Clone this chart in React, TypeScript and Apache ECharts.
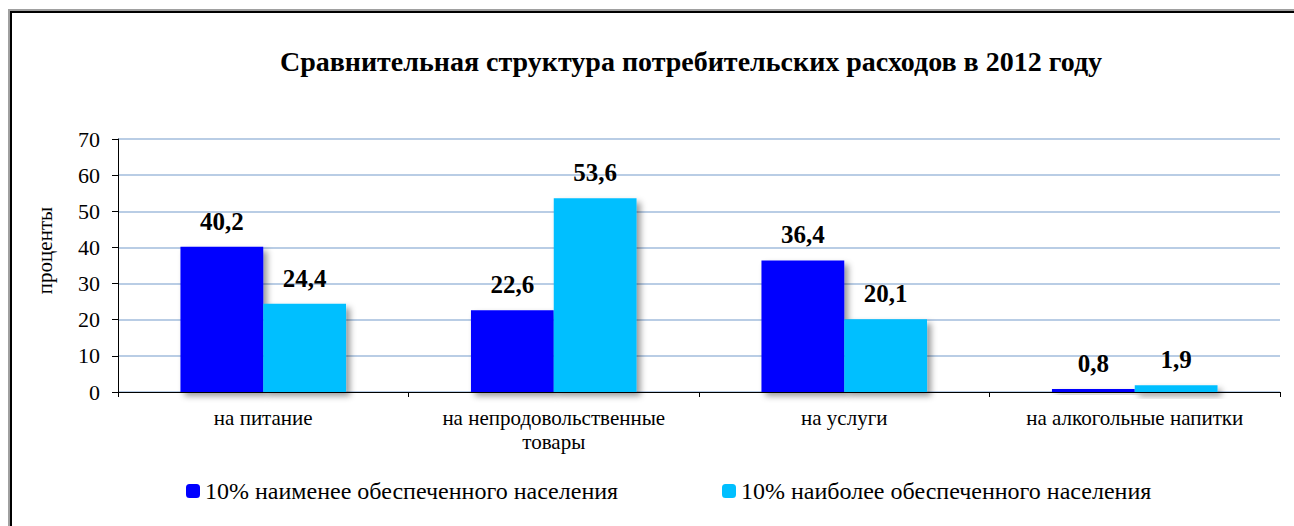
import React, { useEffect, useRef } from "react";
import * as echarts from "echarts";

const categories = ["на питание", "на непродовольственные\nтовары", "на услуги", "на алкогольные напитки"];
const seriesNames = ["10% наименее обеспеченного населения", "10% наиболее обеспеченного населения"];
const poorest = [40.2, 22.6, 36.4, 0.8];
const richest = [24.4, 53.6, 20.1, 1.9];
const title = "Сравнительная структура потребительских расходов в 2012 году";
const yAxisName = "проценты";
const colors = ["#0000FF", "#00BFFF"];

const SERIF = "Liberation Serif";

export default function App() {
  const ref = useRef<HTMLDivElement>(null);
  useEffect(() => {
    document.body.style.margin = "0";
    const chart = echarts.init(ref.current!, null, { renderer: "svg" });
    const label = {
      show: true,
      position: "top" as const,
      distance: 13,
      fontFamily: SERIF,
      fontSize: 25,
      fontWeight: "bold" as const,
      color: "#000",
      formatter: (p: any) => String(p.value).replace(".", ","),
    };
    const shadow = {
      shadowBlur: 6,
      shadowOffsetX: 4,
      shadowOffsetY: 4,
      shadowColor: "rgba(0,0,0,0.4)",
    };
    const legendText = { fontFamily: SERIF, fontSize: 24, color: "#000" };
    chart.setOption({
      animation: false,
      textStyle: { fontFamily: SERIF },
      title: {
        text: title,
        left: 686,
        textAlign: "center",
        top: 42,
        textStyle: { fontFamily: SERIF, fontSize: 28, fontWeight: "bold", color: "#000" },
      },
      graphic: [
        { type: "polyline", shape: { points: [[9, 540], [9, 10], [1300, 10]] }, style: { stroke: "#a0a0a0", lineWidth: 2, fill: "none" } },
        { type: "polyline", shape: { points: [[11, 540], [11, 12], [1300, 12]] }, style: { stroke: "#000", lineWidth: 2, fill: "none" } },
      ],
      legend: [
        {
          data: [seriesNames[0]],
          left: 186,
          top: 479,
          padding: 0,
          itemWidth: 14,
          itemHeight: 14,
          textStyle: legendText,
        },
        {
          data: [seriesNames[1]],
          left: 722,
          top: 479,
          padding: 0,
          itemWidth: 14,
          itemHeight: 14,
          textStyle: legendText,
        },
      ],
      grid: { left: 118, right: 14, top: 139, bottom: 134, containLabel: false },
      xAxis: {
        type: "category",
        data: categories,
        axisLine: { lineStyle: { color: "#000", width: 1 } },
        axisTick: { show: true, length: 5, lineStyle: { color: "#000" } },
        axisLabel: { fontFamily: SERIF, fontSize: 21, color: "#000", margin: 14, lineHeight: 24 },
      },
      yAxis: {
        type: "value",
        min: 0,
        max: 70,
        interval: 10,
        name: yAxisName,
        nameLocation: "middle",
        nameGap: 63,
        nameTextStyle: { fontFamily: SERIF, fontSize: 21, color: "#000", padding: [0, 0, 0, 30] },
        axisLine: { show: true, lineStyle: { color: "#000", width: 1 } },
        axisTick: { show: true, length: 6, lineStyle: { color: "#000" } },
        axisLabel: { fontFamily: SERIF, fontSize: 22, color: "#000", margin: 18 },
        splitLine: { lineStyle: { color: "#B9CDE5", width: 2 } },
      },
      series: [
        {
          name: seriesNames[0],
          type: "bar",
          data: poorest,
          barGap: "0%",
          barCategoryGap: "43%",
          itemStyle: { color: colors[0], ...shadow },
          label,
        },
        {
          name: seriesNames[1],
          type: "bar",
          data: richest,
          itemStyle: { color: colors[1], ...shadow },
          label,
        },
      ],
    });
    return () => chart.dispose();
  }, []);
  return <div ref={ref} style={{ width: 1294, height: 526 }} />;
}
